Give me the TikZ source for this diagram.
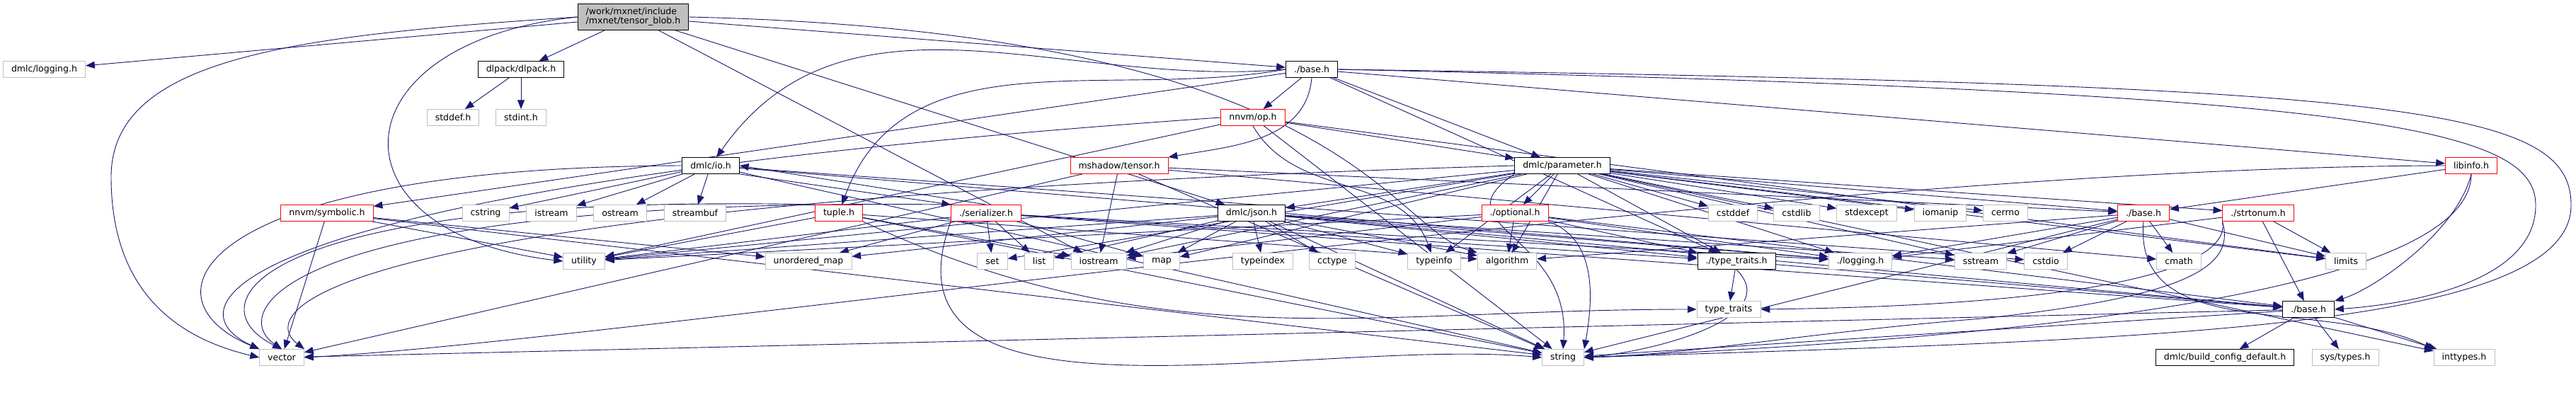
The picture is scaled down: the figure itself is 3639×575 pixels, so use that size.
\documentclass[tikz,border=0pt]{standalone}
\usepackage{fontspec}
\setmainfont{DejaVu Sans}
\usetikzlibrary{arrows.meta, backgrounds}
\definecolor{edgeblue}{RGB}{25,25,112}
\definecolor{boxgray}{RGB}{191,191,191}

\begin{document}
\begin{tikzpicture}[x=0.25mm, y=-0.25mm,
  hdr/.style={rectangle, draw=#1, fill=white, line width=0.6pt,
              font=\fontsize{8.9}{9.4}\selectfont, inner xsep=2.9mm, inner ysep=0pt,
              minimum height=5.75mm},
  sys/.style={hdr=boxgray},
  doc/.style={hdr=black},
  cut/.style={hdr=red},
  dep/.style={-{Triangle[length=3.2mm, width=2.5mm]}, draw=edgeblue, line width=0.65pt},
]
  \useasboundingbox (0,0) rectangle (3639,575);

  % File itself
  \node[hdr=black, fill=boxgray, align=left, minimum height=9.25mm] (root) at (894.5,24)
    {/work/mxnet/include\\/mxnet/tensor\_blob.h};

  % Row 1
  \node[sys] (logging) at (62.5,98) {dmlc/logging.h};
  \node[doc] (dlpack) at (736,98) {dlpack/dlpack.h};
  \node[doc] (mxbase) at (1853,98) {./base.h};

  % Row 2
  \node[sys] (stddef) at (640,166) {stddef.h};
  \node[sys] (stdint) at (736,166) {stdint.h};
  \node[cut] (nnvmop) at (1770,166) {nnvm/op.h};

  % Row 3
  \node[doc] (dmlcio) at (1004,234) {dmlc/io.h};
  \node[cut] (mshadow) at (1581,234) {mshadow/tensor.h};
  \node[doc] (param) at (2207,234) {dmlc/parameter.h};
  \node[cut] (libinfo) at (3491,234) {libinfo.h};

  % Row 4
  \node[cut] (symbolic) at (462,301) {nnvm/symbolic.h};
  \node[sys] (cstring) at (686,301) {cstring};
  \node[sys] (istream) at (779,301) {istream};
  \node[sys] (ostream) at (876,301) {ostream};
  \node[sys] (streambuf) at (982,301) {streambuf};
  \node[cut] (tuple) at (1185,301) {tuple.h};
  \node[cut] (serial) at (1393,301) {./serializer.h};
  \node[doc] (json) at (1768,301) {dmlc/json.h};
  \node[cut] (optional) at (2140,301) {./optional.h};
  \node[sys] (cstddef) at (2448,301) {cstddef};
  \node[sys] (cstdlib) at (2538,301) {cstdlib};
  \node[sys] (stdexcept) at (2637,301) {stdexcept};
  \node[sys] (iomanip) at (2741,301) {iomanip};
  \node[sys] (cerrno) at (2833,301) {cerrno};
  \node[cut] (shbase) at (3028,301) {./base.h};
  \node[cut] (strtonum) at (3190,301) {./strtonum.h};

  % Row 5
  \node[sys] (utility) at (825,369) {utility};
  \node[sys] (umap) at (1142,369) {unordered\_map};
  \node[sys] (set) at (1402,369) {set};
  \node[sys] (list) at (1468,369) {list};
  \node[sys] (iostream) at (1552,369) {iostream};
  \node[sys] (map) at (1641,369) {map};
  \node[sys] (typeindex) at (1784,369) {typeindex};
  \node[sys] (cctype) at (1882,369) {cctype};
  \node[sys] (typeinfo) at (2026,369) {typeinfo};
  \node[sys] (algorithm) at (2129,369) {algorithm};
  \node[doc] (dtraits) at (2453,369) {./type\_traits.h};
  \node[sys] (dlog) at (2628,369) {./logging.h};
  \node[sys] (sstream) at (2798,369) {sstream};
  \node[sys] (cstdio) at (2890,369) {cstdio};
  \node[sys] (cmath) at (3078,369) {cmath};
  \node[sys] (limits) at (3314,369) {limits};

  % Row 6
  \node[sys] (typetraits) at (2442,437) {type\_traits};
  \node[doc] (base6) at (3261,437) {./base.h};

  % Row 7
  \node[sys] (vector) at (398,505) {vector};
  \node[sys] (string) at (2208,505) {string};
  \node[doc] (buildcfg) at (3143,505) {dmlc/build\_config\_default.h};
  \node[sys] (systypes) at (3313,505) {sys/types.h};
  \node[sys] (inttypes) at (3481,505) {inttypes.h};

  \begin{scope}[on background layer]
  % tensor_blob.h
  \foreach \t in {logging,dlpack,mxbase,json,iostream} \draw[dep] (root) -- (\t);
  \draw[dep] (root.west) .. controls (420,50) and (157,80) .. (157,250)
    .. controls (157,420) and (260,480) .. (vector.west);
  \draw[dep] (root.west) .. controls (470,60) and (460,330) .. (utility.west);
  \draw[dep] (root.east) .. controls (1900,45) and (1960,320) .. (algorithm.north west);

  % dlpack
  \foreach \t in {stddef,stdint} \draw[dep] (dlpack) -- (\t);

  % ./base.h
  \foreach \t in {nnvmop,param,symbolic,dtraits,libinfo} \draw[dep] (mxbase) -- (\t);
  \draw[dep] (mxbase.west) to[out=185, in=55] (dmlcio);
  \draw[dep] (mxbase.south) to[out=-95, in=10] (mshadow.north east);
  \draw[dep] (mxbase.west) to[out=190, in=70] (tuple);
  \draw[dep] (mxbase.east) .. controls (3350,130) and (3582,180) .. (3582,290)
    .. controls (3582,400) and (3400,430) .. (base6.east);
  \draw[dep] (mxbase.east) .. controls (3400,120) and (3632,150) .. (3632,290)
    .. controls (3632,470) and (3000,480) .. (string.east);

  % nnvm/op.h
  \foreach \t in {param,limits,utility,string} \draw[dep] (nnvmop) -- (\t);
  \draw[dep] (nnvmop.south) to[out=-60, in=110] (typeinfo);
  \draw[dep] (nnvmop.west) .. controls (330,262) and (230,430) .. (vector.north west);

  % mshadow/tensor.h
  \foreach \t in {iostream,shbase,string,cmath,vector} \draw[dep] (mshadow) -- (\t);

  % dmlc/io.h
  \foreach \t in {cstring,istream,ostream,streambuf,dlog,cstdio,string} \draw[dep] (dmlcio) -- (\t);
  \draw[dep] (dmlcio.south east) -- (serial.north west);
  \draw[dep] (serial.north) -- (dmlcio.east);
  \draw[dep] (dmlcio.west) .. controls (280,236) and (190,420) .. (vector.north west);

  % tuple.h
  \foreach \t in {utility,iostream,algorithm,string} \draw[dep] (tuple) -- (\t);
  \draw[dep] (tuple.south east) to[out=-25, in=180] (typetraits.west);
  \draw[dep] (tuple.north west) .. controls (360,272) and (270,430) .. (vector.north);

  % ./serializer.h
  \foreach \t in {set,list,map,utility,umap,dtraits,dlog,base6} \draw[dep] (serial) -- (\t);
  \draw[dep] (serial.south west) to[out=-110, in=175] (string.west);
  \draw[dep] (serial.north west) .. controls (400,278) and (320,440) .. (vector.north);

  % dmlc/json.h
  \foreach \t in {list,umap,iostream,map,typeindex,cctype,typeinfo,algorithm,
                  sstream,dtraits,dlog,base6,string,utility} \draw[dep] (json) -- (\t);

  % dmlc/parameter.h
  \foreach \t in {json,optional,cstddef,cstdlib,stdexcept,iomanip,cerrno,strtonum,shbase,
                  set,map,typeinfo,algorithm,iostream,sstream,limits,dtraits,dlog,
                  utility,inttypes} \draw[dep] (param) -- (\t);
  \draw[dep] (param.south west) .. controls (2030,320) and (2220,330) .. (string.north);
  \draw[dep] (param.west) .. controls (440,284) and (360,440) .. (vector.north east);

  % ./optional.h
  \foreach \t in {iostream,utility,algorithm,dtraits,dlog,base6} \draw[dep] (optional) -- (\t);
  \draw[dep] (optional.south east) to[out=-20, in=80] (string.north east);

  % ./type_traits.h
  \foreach \t in {typetraits,base6} \draw[dep] (dtraits) -- (\t);
  \draw[dep] (dtraits.south) to[out=-45, in=5] (string.east);

  % red ./base.h
  \foreach \t in {sstream,cstdio,cmath,limits,dlog,algorithm,string} \draw[dep] (shbase) -- (\t);
  \draw[dep] (shbase.south) to[out=-95, in=155] (inttypes.north west);

  % ./strtonum.h
  \foreach \t in {limits,base6,dlog} \draw[dep] (strtonum) -- (\t);
  \draw[dep] (strtonum.south west) .. controls (3150,360) and (3050,430) .. (typetraits.east);
  \draw[dep] (strtonum.south west) .. controls (3160,380) and (3080,420) .. (2800,450)
    .. controls (2550,470) and (2400,500) .. (string.east);

  % libinfo.h
  \draw[dep] (libinfo) -- (shbase);
  \draw[dep] (libinfo.south) .. controls (3470,330) and (3350,410) .. (base6.north east);
  \draw[dep] (libinfo.south) .. controls (3490,420) and (2800,480) .. (string.east);
  \draw[dep] (libinfo.west) .. controls (2500,236) and (900,480) .. (vector.east);

  % nnvm/symbolic.h
  \foreach \t in {vector,utility,umap,string} \draw[dep] (symbolic) -- (\t);

  % black ./base.h
  \foreach \t in {buildcfg,systypes,inttypes,string,vector} \draw[dep] (base6) -- (\t);
  \end{scope}
\end{tikzpicture}
\end{document}
